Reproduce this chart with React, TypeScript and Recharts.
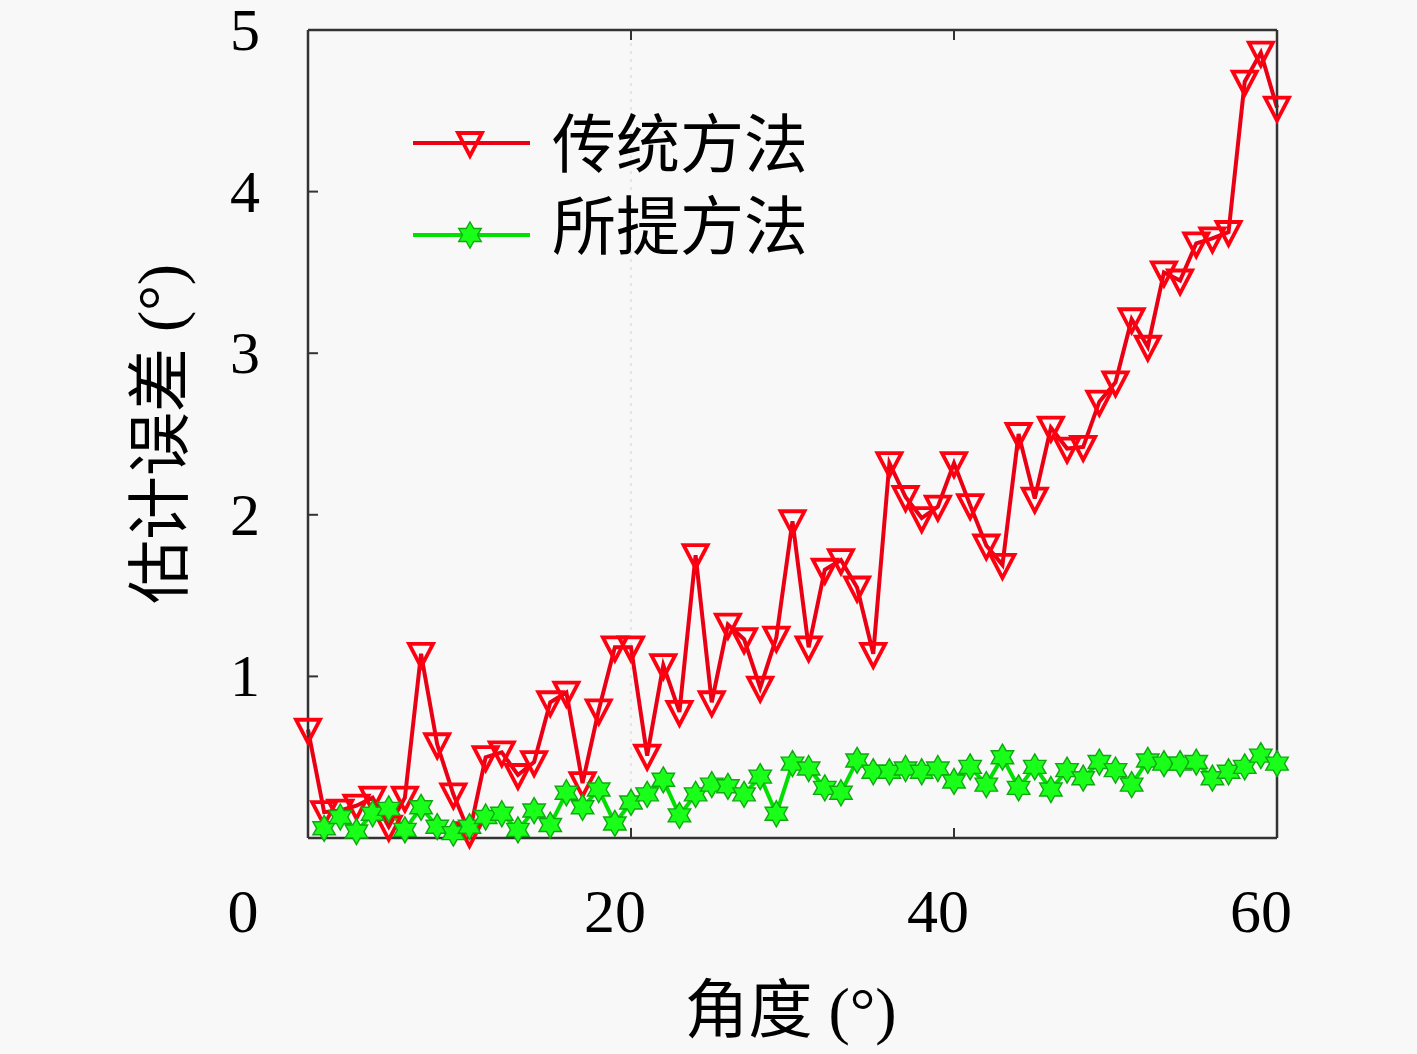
import React from "react"
import { Line, LineChart, ReferenceLine, XAxis, YAxis, Label } from "recharts"

// angle (deg) on the x axis
const angles = [
  0, 1, 2, 3, 4, 5, 6, 7, 8, 9, 10, 11, 12, 13, 14, 15, 16, 17, 18, 19, 20,
  21, 22, 23, 24, 25, 26, 27, 28, 29, 30, 31, 32, 33, 34, 35, 36, 37, 38, 39, 40,
  41, 42, 43, 44, 45, 46, 47, 48, 49, 50, 51, 52, 53, 54, 55, 56, 57, 58, 59, 60,
]

// 传统方法
const traditional = [
  0.67, 0.16, 0.17, 0.2, 0.25, 0.07, 0.25, 1.14, 0.58, 0.27, 0.03,
  0.5, 0.53, 0.39, 0.47, 0.84, 0.9, 0.34, 0.79, 1.18, 1.18,
  0.51, 1.07, 0.78, 1.75, 0.84, 1.32, 1.23, 0.93, 1.24, 1.96,
  1.18, 1.66, 1.72, 1.55, 1.14, 2.32, 2.11, 1.98, 2.05, 2.32,
  2.06, 1.81, 1.69, 2.5, 2.1, 2.54, 2.41, 2.42, 2.7, 2.82,
  3.21, 3.04, 3.5, 3.45, 3.68, 3.71, 3.75, 4.68, 4.86, 4.52,
]

// 所提方法
const proposed = [
  null, 0.06, 0.13, 0.04, 0.15, 0.18, 0.05, 0.19, 0.07, 0.03, 0.07,
  0.13, 0.15, 0.05, 0.17, 0.08, 0.28, 0.19, 0.3, 0.09, 0.22,
  0.27, 0.36, 0.14, 0.27, 0.33, 0.32, 0.27, 0.38, 0.15, 0.46,
  0.43, 0.31, 0.28, 0.48, 0.41, 0.41, 0.43, 0.41, 0.43, 0.35,
  0.44, 0.33, 0.5, 0.31, 0.44, 0.3, 0.42, 0.37, 0.47, 0.42,
  0.33, 0.48, 0.46, 0.46, 0.47, 0.37, 0.41, 0.44, 0.51, 0.46,
]

const xTicks = [0, 20, 40, 60]
const yTicks = [0, 1, 2, 3, 4, 5]

const RED = "#ea0014"
const GREEN = "#00e000"
const FRAME = "#333333"
const NUM_FONT = "'Liberation Serif', 'Noto Sans CJK SC', serif"
const CJK_FONT = "'Liberation Serif', 'Noto Sans CJK SC', sans-serif"

const data = angles.map((a, i) => ({
  angle: a,
  traditional: traditional[i],
  proposed: proposed[i],
}))

function triPath(cx: number, cy: number) {
  return `M${cx - 12},${cy - 10} L${cx + 12},${cy - 10} L${cx},${cy + 13} Z`
}

function hexPath(cx: number, cy: number, R = 13) {
  const r = R / Math.sqrt(3)
  const pts: string[] = []
  for (let k = 0; k < 12; k++) {
    const ang = (-90 + k * 30) * (Math.PI / 180)
    const rad = k % 2 === 0 ? R : r
    pts.push(`${cx + rad * Math.cos(ang)},${cy + rad * Math.sin(ang)}`)
  }
  return "M" + pts.join(" L") + " Z"
}

function TriangleDot(props: any) {
  const { cx, cy, index } = props
  if (cx == null || cy == null) return <g key={"t" + index} />
  return (
    <path key={"t" + index} d={triPath(cx, cy)} fill="none" stroke="#ff0010" strokeWidth={3.8} />
  )
}

function StarDot(props: any) {
  const { cx, cy, index, value } = props
  if (cx == null || cy == null || value == null) return <g key={"s" + index} />
  return (
    <path key={"s" + index} d={hexPath(cx, cy)} fill="#1aff1a" stroke="#10a810" strokeWidth={1.4} />
  )
}

// label shift of the bottom tick text relative to its tick
const xLabelShift = (v: number) => (v === 0 ? -65 : -16)

function BottomTick({ x, y, payload }: any) {
  const v = payload.value
  return (
    <g>
      {v > 0 && v < 60 && <line x1={x} y1={y} x2={x} y2={y - 10} stroke={FRAME} strokeWidth={2} />}
      <text x={x + xLabelShift(v)} y={y + 94} textAnchor="middle" fontSize={62} fontFamily={NUM_FONT} fill="#000">
        {v}
      </text>
    </g>
  )
}

function TopTick({ x, y, payload }: any) {
  const v = payload.value
  if (v <= 0 || v >= 60) return <g />
  return <line x1={x} y1={y} x2={x} y2={y + 10} stroke={FRAME} strokeWidth={2} />
}

function LeftTick({ x, y, payload }: any) {
  const v = payload.value
  return (
    <g>
      {v > 0 && v < 5 && <line x1={x} y1={y} x2={x + 10} y2={y} stroke={FRAME} strokeWidth={2} />}
      {v > 0 && (
        <text x={x - 48} y={y + 20} textAnchor="end" fontSize={60} fontFamily={NUM_FONT} fill="#000">
          {v}
        </text>
      )}
    </g>
  )
}

function RightTick({ x, y, payload }: any) {
  const v = payload.value
  if (v <= 0 || v >= 5) return <g />
  return <line x1={x} y1={y} x2={x - 10} y2={y} stroke={FRAME} strokeWidth={2} />
}

function ChartLegend() {
  return (
    <svg
      width={440}
      height={180}
      style={{ position: "absolute", left: 400, top: 100, overflow: "visible" }}
    >
      <line x1={13} y1={43} x2={130} y2={43} stroke={RED} strokeWidth={4} />
      <path d={triPath(70, 43)} fill="none" stroke="#ff0010" strokeWidth={3.8} />
      <text x={152} y={45} dominantBaseline="central" fontSize={64} fontFamily={CJK_FONT} fill="#000">
        传统方法
      </text>
      <line x1={13} y1={135} x2={130} y2={135} stroke={GREEN} strokeWidth={4} />
      <path d={hexPath(70, 135)} fill="#1aff1a" stroke="#10a810" strokeWidth={1.4} />
      <text x={152} y={127} dominantBaseline="central" fontSize={64} fontFamily={CJK_FONT} fill="#000">
        所提方法
      </text>
    </svg>
  )
}

export default function App() {
  const axisLine = { stroke: FRAME, strokeWidth: 2.5 }
  return (
    <div
      style={{
        position: "absolute",
        left: 0,
        top: 0,
        width: 1417,
        height: 1054,
        background: "#f8f8f8",
        overflow: "hidden",
      }}
    >
      <LineChart
        width={1417}
        height={1054}
        data={data}
        margin={{ top: 29, right: 139, bottom: 215, left: 307 }}
      >
        <XAxis
          dataKey="angle"
          type="number"
          domain={[0, 60]}
          ticks={xTicks}
          interval={0}
          height={1}
          tickSize={0}
          tickMargin={0}
          tickLine={false}
          axisLine={axisLine}
          tick={<BottomTick />}
        >
          <Label
            content={({ viewBox }: any) => (
              <text
                x={viewBox.x + viewBox.width / 2 - 2}
                y={viewBox.y + 172}
                textAnchor="middle"
                dominantBaseline="central"
                fontSize={64}
                fontFamily={CJK_FONT}
                fill="#000"
              >
                角度 (°)
              </text>
            )}
          />
        </XAxis>
        <XAxis
          xAxisId="top"
          orientation="top"
          dataKey="angle"
          type="number"
          domain={[0, 60]}
          ticks={xTicks}
          interval={0}
          height={1}
          tickSize={0}
          tickMargin={0}
          tickLine={false}
          axisLine={axisLine}
          tick={<TopTick />}
        />
        <YAxis
          type="number"
          domain={[0, 5]}
          ticks={yTicks}
          interval={0}
          width={1}
          tickSize={0}
          tickMargin={0}
          tickLine={false}
          axisLine={axisLine}
          tick={<LeftTick />}
        >
          <Label
            content={({ viewBox }: any) => {
              const cx = viewBox.x - 147
              const cy = viewBox.y + viewBox.height / 2
              return (
                <text
                  x={cx}
                  y={cy}
                  transform={`rotate(-90 ${cx} ${cy})`}
                  textAnchor="middle"
                  dominantBaseline="central"
                  fontSize={64}
                  fontFamily={CJK_FONT}
                  fill="#000"
                >
                  估计误差 (°)
                </text>
              )
            }}
          />
        </YAxis>
        <YAxis
          yAxisId="right"
          orientation="right"
          type="number"
          domain={[0, 5]}
          ticks={yTicks}
          interval={0}
          width={1}
          tickSize={0}
          tickMargin={0}
          tickLine={false}
          axisLine={axisLine}
          tick={<RightTick />}
        />
        <ReferenceLine x={20} stroke="#d9d9d9" strokeWidth={1.2} strokeDasharray="3 5" />
        <Line
          type="linear"
          dataKey="traditional"
          stroke={RED}
          strokeWidth={4}
          dot={TriangleDot}
          activeDot={false}
          isAnimationActive={false}
        />
        <Line
          type="linear"
          dataKey="proposed"
          stroke={GREEN}
          strokeWidth={4}
          dot={StarDot}
          activeDot={false}
          isAnimationActive={false}
        />
      </LineChart>
      <ChartLegend />
    </div>
  )
}
